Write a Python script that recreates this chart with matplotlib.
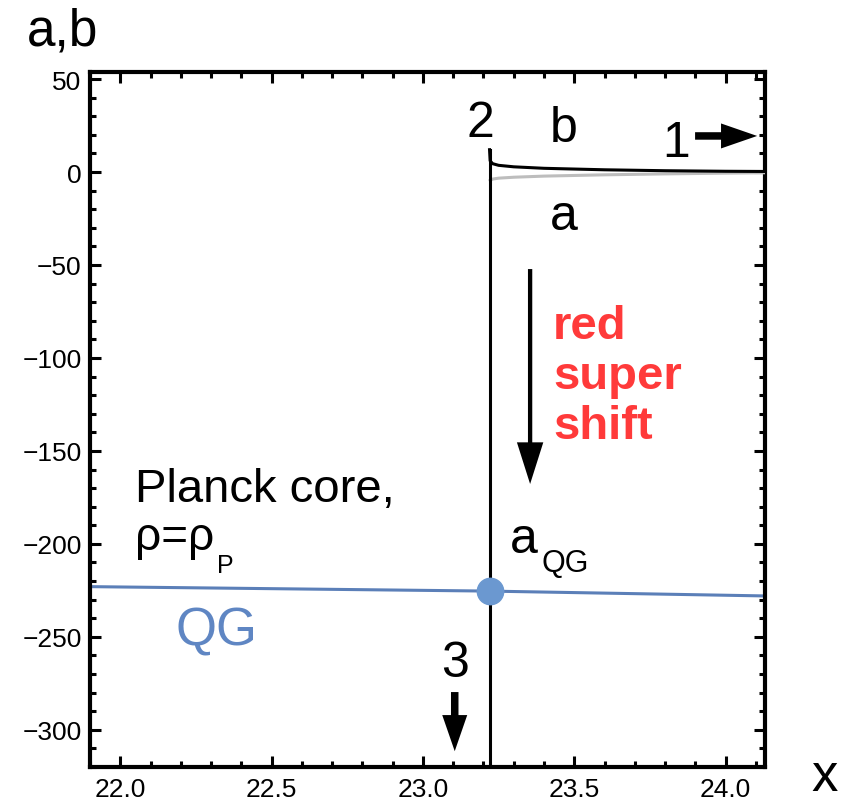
import numpy as np
import matplotlib.pyplot as plt
from matplotlib.ticker import MultipleLocator

plt.rcParams['font.family'] = ['Liberation Sans', 'DejaVu Sans']

# branch point and the two scale factors just after it
x_sing = 23.22
x_b = [23.22, 23.222, 23.23, 23.25, 23.30, 23.40, 23.60, 23.80, 24.00, 24.13]
b_vals = [12.0, 6.0, 4.5, 3.6, 2.8, 2.0, 1.2, 0.7, 0.4, 0.3]
x_a = [23.222, 23.23, 23.25, 23.30, 23.40, 23.60, 23.80, 24.00, 24.13]
a_vals = [-4.5, -3.8, -3.3, -2.8, -2.2, -1.5, -1.0, -0.6, -0.4]

# quantum-gravity level
x_qg = [21.90, 23.22, 24.13]
a_qg = [-223.0, -225.4, -228.0]

fig = plt.figure(figsize=(8.52, 8.03), dpi=100)
ax = fig.add_axes([0.1056, 0.0436, 0.7923, 0.8655])

ax.plot(x_qg, a_qg, color='#5b7fb8', lw=2.2, zorder=2)
ax.plot(x_a, a_vals, color='#bdbdbd', lw=2.2, zorder=3)
ax.plot(x_b, b_vals, color='black', lw=2.2, zorder=4)
ax.plot([x_sing, x_sing], [-330, b_vals[0]], color='black', lw=2.2, zorder=4)
ax.plot([x_sing], [a_qg[1]], 'o', ms=19, color='#6b98d0', mec='#6b98d0', zorder=5)

ax.set_xlim(21.90, 24.13)
ax.set_ylim(-320, 53.8)
ax.xaxis.set_major_locator(MultipleLocator(0.5))
ax.xaxis.set_minor_locator(MultipleLocator(0.1))
ax.yaxis.set_major_locator(MultipleLocator(50))
ax.yaxis.set_minor_locator(MultipleLocator(10))
ax.xaxis.set_major_formatter(plt.FuncFormatter(lambda v, p: f'{v:.1f}'))
ax.tick_params(which='both', direction='in', top=True, right=True, width=2.2, labelsize=19)
ax.tick_params(which='major', length=8)
ax.tick_params(which='minor', length=4)
ax.tick_params(axis='y', pad=6)
ax.tick_params(axis='x', pad=7)
for s in ax.spines.values():
    s.set_linewidth(3)


def arrow(x0, y0, x1, y1, hl, hw, tw):
    ax.annotate('', xy=(x1, y1), xytext=(x0, y0),
                arrowprops=dict(arrowstyle=f'simple,head_length={hl},head_width={hw},tail_width={tw}',
                                color='black', lw=0, shrinkA=0, shrinkB=0, mutation_scale=10))


big = dict(fontsize=36, color='black', va='baseline')
ax.text(23.237, 19.4, '2', ha='right', **big)
ax.text(23.42, 16.7, 'b', ha='left', **big)
ax.text(23.42, -30.7, 'a', ha='left', **big)
ax.text(23.79, 8.6, '1', ha='left', **big)
arrow(23.899, 19.4, 24.104, 19.4, 2.6, 1.8, 0.54)

arrow(23.354, -52.2, 23.354, -167.8, 3.0, 1.9, 0.31)
ax.text(23.43, -71, 'red\nsuper\nshift', ha='left', va='top', fontsize=34,
        fontweight='bold', color='#ff3a3a', linespacing=1.17)

ax.text(22.049, -177.0, 'Planck core,', ha='left', va='baseline', fontsize=34)
ax.text(22.049, -202.8, 'ρ=ρ', ha='left', va='baseline', fontsize=33)
ax.text(22.32, -215.2, 'P', ha='left', va='baseline', fontsize=18)
ax.text(22.181, -253.9, 'QG', ha='left', va='baseline', fontsize=38, color='#5f86c3')

ax.text(23.287, -204.4, 'a', ha='left', **big)
ax.text(23.393, -214.6, 'QG', ha='left', va='baseline', fontsize=22)

ax.text(23.105, -271.1, '3', ha='center', **big)
arrow(23.105, -279.7, 23.105, -311.5, 2.6, 1.8, 0.54)

fig.text(27 / 852, 1 - 45 / 803, 'a,b', ha='left', va='baseline', fontsize=37)
fig.text(825 / 852, 1 - 791 / 803, 'x', ha='center', va='baseline', fontsize=38)

fig.savefig('out.png', dpi=100)
